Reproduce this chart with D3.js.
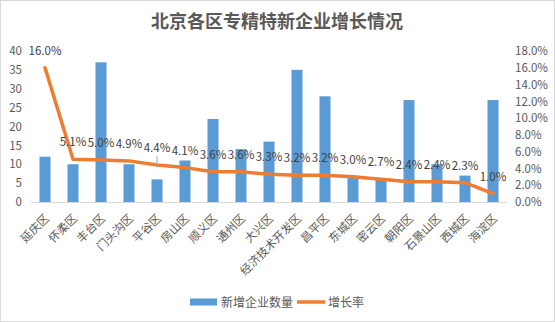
<!DOCTYPE html>
<html><head><meta charset="utf-8">
<script src="https://cdn.jsdelivr.net/npm/d3@7/dist/d3.min.js"></script>
<style>
html,body{margin:0;padding:0;background:#fff;}
svg{display:block;font-family:"Noto Sans CJK SC","Noto Sans",sans-serif;}
</style></head>
<body>
<script>
const categories = ["延庆区","怀柔区","丰台区","门头沟区","平谷区","房山区","顺义区","通州区","大兴区","经济技术开发区","昌平区","东城区","密云区","朝阳区","石景山区","西城区","海淀区"];
const newCompanies = [12,10,37,10,6,11,22,14,16,35,28,7,6,27,10,7,27];
const growthRate = [16.0,5.1,5.0,4.9,4.4,4.1,3.6,3.6,3.3,3.2,3.2,3.0,2.7,2.4,2.4,2.3,1.0];
const leftTicks = [0,5,10,15,20,25,30,35,40];
const rightTicks = [0,2,4,6,8,10,12,14,16,18];

(function(){
const W = 555, H = 322;
const svg = d3.select("body").append("svg").attr("width", W).attr("height", H);
svg.append("rect").attr("x",0.5).attr("y",0.5).attr("width",W-1).attr("height",H-1)
  .attr("fill","#fff").attr("stroke","#d9d9d9");

const pL = 31, pR = 507, pT = 51, pB = 202;
const xc = d3.scaleBand().domain(categories).range([pL,pR]);
const yL = d3.scaleLinear().domain([0,40]).range([pB,pT]);
const yR = d3.scaleLinear().domain([0,18]).range([pB,pT]);

svg.append("text").attr("x",277).attr("y",28).attr("text-anchor","middle")
  .attr("font-size",18).attr("font-weight","bold").attr("fill","#595959")
  .text("北京各区专精特新企业增长情况");

// bars
svg.append("g").selectAll("rect").data(categories).join("rect")
  .attr("x", d => xc(d) + xc.bandwidth()/2 - 5.5)
  .attr("width", 11)
  .attr("y", (d,i) => yL(newCompanies[i]))
  .attr("height", (d,i) => pB - yL(newCompanies[i]))
  .attr("fill","#5b9bd5");

// x axis line
svg.append("line").attr("x1",pL).attr("x2",pR).attr("y1",pB+0.5).attr("y2",pB+0.5)
  .attr("stroke","#d9d9d9").attr("stroke-width",1);

// left axis
const gL = svg.append("g").attr("transform",`translate(${pL},0)`)
  .call(d3.axisLeft(yL).tickValues(leftTicks).tickSize(0).tickPadding(9));
gL.select(".domain").remove();
gL.selectAll("text").attr("font-size",11.5).attr("fill","#595959").attr("font-family","Noto Sans CJK SC, sans-serif");

// right axis
const gR = svg.append("g").attr("transform",`translate(${pR},0)`)
  .call(d3.axisRight(yR).tickValues(rightTicks).tickSize(0).tickPadding(8).tickFormat(d => d.toFixed(1)+"%"));
gR.select(".domain").remove();
gR.selectAll("text").attr("font-size",11.5).attr("fill","#595959").attr("font-family","Noto Sans CJK SC, sans-serif");

// category labels
svg.append("g").selectAll("text").data(categories).join("text")
  .attr("transform", d => `translate(${xc(d)+xc.bandwidth()/2+5},${pB+17}) rotate(-45)`)
  .attr("text-anchor","end")
  .attr("font-size",11.5).attr("fill","#595959")
  .text(d => d);

// line
const line = d3.line().x((d,i) => xc(categories[i]) + xc.bandwidth()/2).y(d => yR(d));
svg.append("path").datum(growthRate).attr("d", line)
  .attr("fill","none").attr("stroke","#ed7d31").attr("stroke-width",3.5)
  .attr("stroke-linejoin","round").attr("stroke-linecap","round");

// leader line for 4.4%
{
  const i = 4;
  const cx = xc(categories[i]) + xc.bandwidth()/2;
  svg.append("line").attr("x1",cx).attr("x2",cx).attr("y1",yR(growthRate[i])-9).attr("y2",yR(growthRate[i]))
    .attr("stroke","#a6a6a6").attr("stroke-width",1);
}

// data labels
svg.append("g").selectAll("text").data(growthRate).join("text")
  .attr("x", (d,i) => xc(categories[i]) + xc.bandwidth()/2)
  .attr("y", d => yR(d) - 13)
  .attr("text-anchor","middle")
  .attr("font-size",11.5).attr("fill","#404040")
  .text(d => d.toFixed(1)+"%");

// legend
svg.append("rect").attr("x",190).attr("y",298.5).attr("width",27).attr("height",7).attr("fill","#5b9bd5");
svg.append("text").attr("x",221).attr("y",306.5).attr("font-size",12).attr("fill","#595959").text("新增企业数量");
svg.append("line").attr("x1",297).attr("x2",325).attr("y1",302).attr("y2",302)
  .attr("stroke","#ed7d31").attr("stroke-width",3.5);
svg.append("text").attr("x",328).attr("y",306.5).attr("font-size",12).attr("fill","#595959").text("增长率");
})();
</script>
</body></html>
